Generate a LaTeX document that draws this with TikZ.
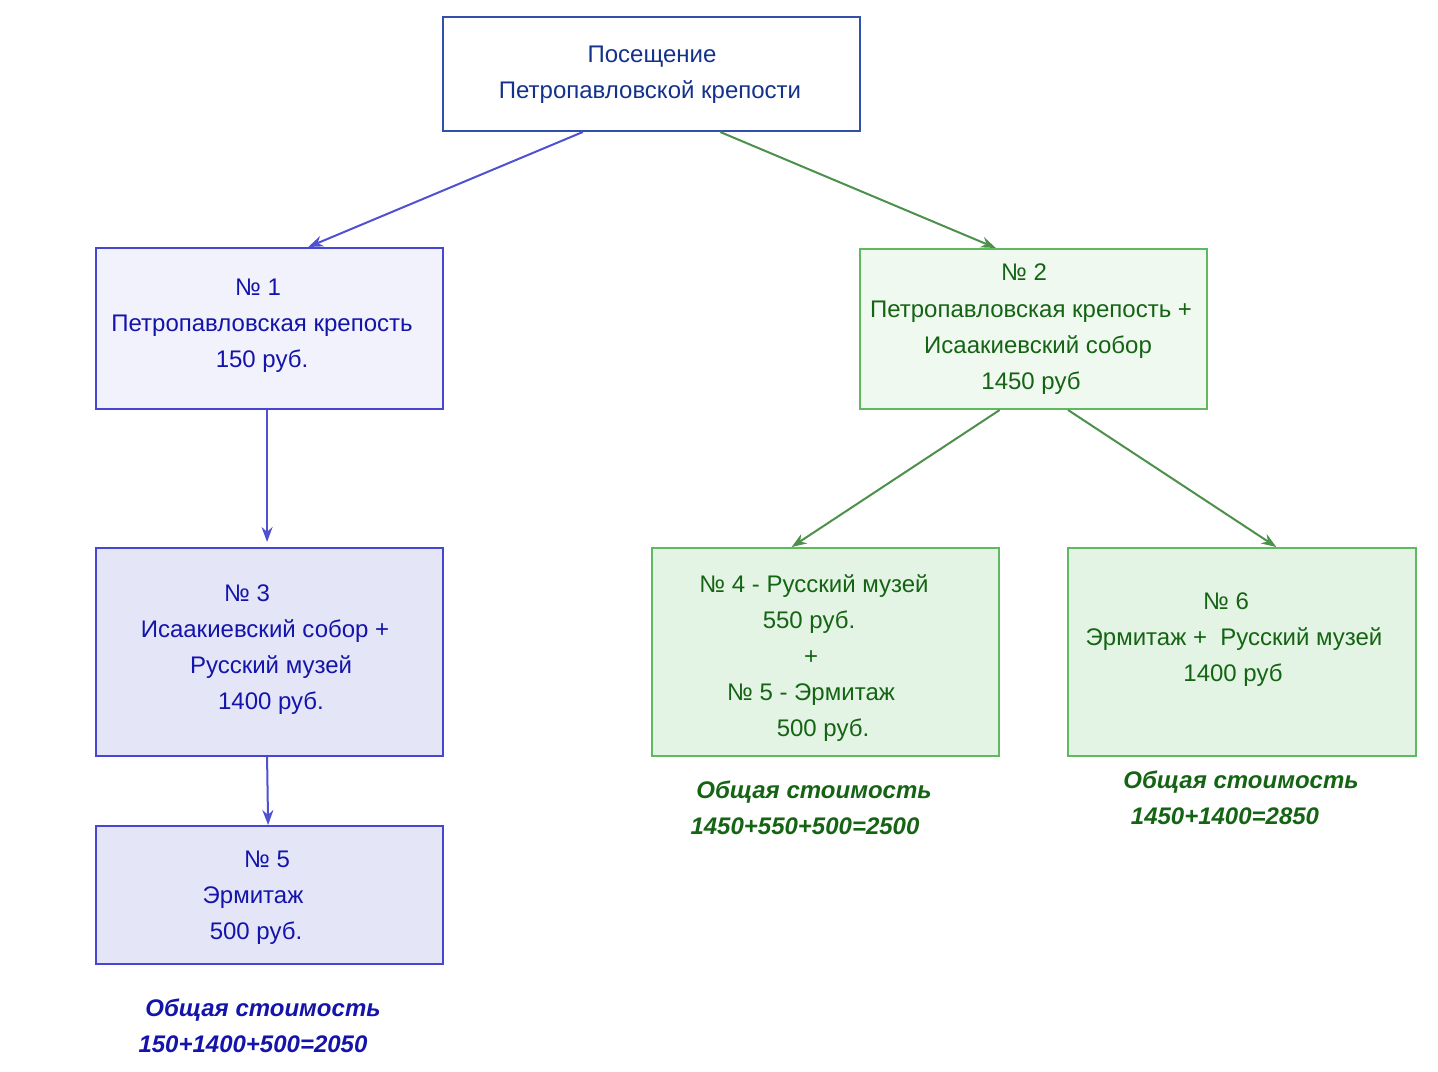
\documentclass[tikz,border=0pt]{standalone}
\usepackage{fontspec}
\setmainfont{Liberation Sans}
\usetikzlibrary{arrows.meta,calc}
\definecolor{topborder}{RGB}{50,80,170}
\definecolor{toptext}{RGB}{20,50,140}
\definecolor{bborder}{RGB}{70,70,210}
\definecolor{bfillA}{RGB}{242,242,252}
\definecolor{bfillB}{RGB}{228,230,248}
\definecolor{btext}{RGB}{20,20,170}
\definecolor{barrow}{RGB}{80,80,210}
\definecolor{gborder}{RGB}{95,185,95}
\definecolor{gfillA}{RGB}{240,249,240}
\definecolor{gfillB}{RGB}{228,244,228}
\definecolor{gtext}{RGB}{20,100,20}
\definecolor{garrow}{RGB}{75,145,75}
\tikzset{
  boxbase/.style={draw, rectangle, inner sep=0pt, line width=1pt},
  txt/.style={anchor=base, inner sep=0pt, font=\fontsize{12}{14}\selectfont},
  tot/.style={anchor=base, inner sep=0pt, font=\fontsize{12}{14}\selectfont\bfseries\itshape},
  barr/.style={draw=barrow, line width=1pt, -{Stealth[length=7.5pt,width=5.5pt]}},
  garr/.style={draw=garrow, line width=1pt, -{Stealth[length=7.5pt,width=5.5pt]}},
}
\newcommand\tline[5]{\node[txt,text=#1] (#2) at (#3,#4+8) {#5};}
\newcommand\tlinetot[5]{\node[tot,text=#1] (#2) at (#3,#4+8) {#5};}
\begin{document}
\begin{tikzpicture}[x=0.5pt,y=-0.5pt]
\useasboundingbox (0,0) rectangle (1438,1071);
% boxes
\node[boxbase, draw=topborder, fill=white, minimum width=208.5pt, minimum height=57pt] (top) at (651.5,74) {};
\node[boxbase, draw=bborder, fill=bfillA, minimum width=173.5pt, minimum height=80.5pt] (b1) at (269.5,328.5) {};
\node[boxbase, draw=bborder, fill=bfillB, minimum width=173.5pt, minimum height=104pt] (b3) at (269.5,652) {};
\node[boxbase, draw=bborder, fill=bfillB, minimum width=173.5pt, minimum height=69pt] (b5) at (269.5,895) {};
\node[boxbase, draw=gborder, fill=gfillA, minimum width=173.5pt, minimum height=80pt] (b2) at (1033.5,329) {};
\node[boxbase, draw=gborder, fill=gfillB, minimum width=173.5pt, minimum height=104pt] (b4) at (825.5,652) {};
\node[boxbase, draw=gborder, fill=gfillB, minimum width=174pt, minimum height=104pt] (b6) at (1242,652) {};
% texts
\tline{toptext}{t0a}{652}{54}{Посещение}
\tline{toptext}{t0b}{650}{90}{Петропавловской крепости}
\tline{btext}{t1a}{258}{287}{№ 1}
\tline{btext}{t1b}{262}{323}{Петропавловская крепость}
\tline{btext}{t1c}{262}{359}{150 руб.}
\tline{btext}{t3a}{247}{593}{№ 3}
\tline{btext}{t3b}{265}{629}{Исаакиевский собор +}
\tline{btext}{t3c}{271}{665}{Русский музей}
\tline{btext}{t3d}{271}{701}{1400 руб.}
\tline{btext}{t5a}{267}{859}{№ 5}
\tline{btext}{t5b}{253}{895}{Эрмитаж}
\tline{btext}{t5c}{256}{931}{500 руб.}
\tline{gtext}{t2a}{1024}{272}{№ 2}
\tline{gtext}{t2b}{1031}{309}{Петропавловская крепость +}
\tline{gtext}{t2c}{1038}{345}{Исаакиевский собор}
\tline{gtext}{t2d}{1031}{381}{1450 руб}
\tline{gtext}{t4a}{814}{584}{№ 4 - Русский музей}
\tline{gtext}{t4b}{809}{620}{550 руб.}
\tline{gtext}{t4c}{811}{656}{+}
\tline{gtext}{t4d}{811}{692}{№ 5 - Эрмитаж}
\tline{gtext}{t4e}{823}{728}{500 руб.}
\tline{gtext}{t6a}{1226}{601}{№ 6}
\tline{gtext}{t6b}{1234}{637}{Эрмитаж +\ \ Русский музей}
\tline{gtext}{t6c}{1233}{673}{1400 руб}
% totals
\tlinetot{gtext}{s4a}{814}{790}{Общая стоимость}
\tlinetot{gtext}{s4b}{805}{826}{1450+550+500=2500}
\tlinetot{gtext}{s6a}{1241}{780}{Общая стоимость}
\tlinetot{gtext}{s6b}{1225}{816}{1450+1400=2850}
\tlinetot{btext}{s5a}{263}{1008}{Общая стоимость}
\tlinetot{btext}{s5b}{253}{1044}{150+1400+500=2050}
% arrows
\draw[barr] ($(top.south west)!0.336!(top.south east)$) -- ($(b1.north west)!0.611!(b1.north east)$);
\draw[garr] ($(top.south west)!0.664!(top.south east)$) -- ($(b2.north west)!0.392!(b2.north east)$);
\draw[barr] ($(b1.south west)!0.493!(b1.south east)$) -- ($(b3.north west)!0.493!(b3.north east)+(0,-5)$);
\draw[barr] ($(b3.south west)!0.493!(b3.south east)$) -- ($(b5.north west)!0.496!(b5.north east)$);
\draw[garr] ($(b2.south west)!0.403!(b2.south east)$) -- ($(b4.north west)!0.403!(b4.north east)$);
\draw[garr] ($(b2.south west)!0.599!(b2.south east)$) -- ($(b6.north west)!0.598!(b6.north east)$);
\end{tikzpicture}
\end{document}
